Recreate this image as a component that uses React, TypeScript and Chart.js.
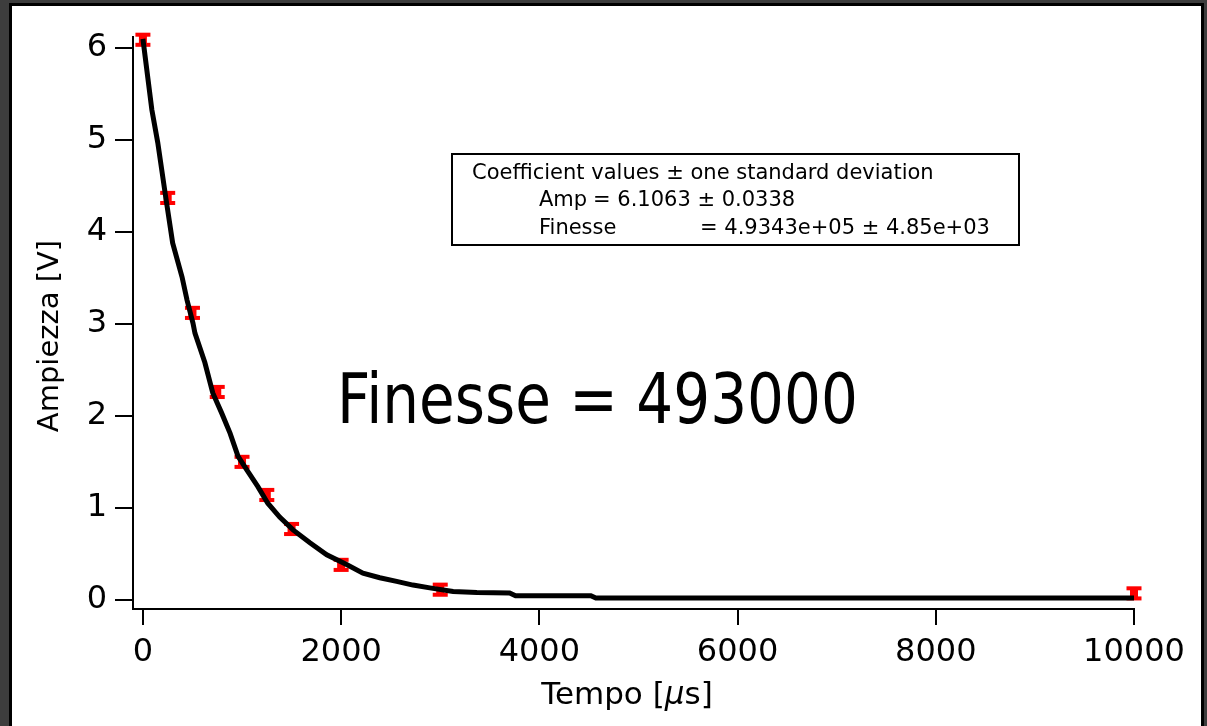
import React, { useEffect, useRef } from 'react';
import { Chart, registerables } from 'chart.js';

Chart.register(...registerables);

// Measured samples (red markers with error bars)
const sampleTime = [0, 250, 500, 750, 1000, 1250, 1500, 2000, 3000, 10000];
const sampleAmp = [6.09, 4.37, 3.12, 2.26, 1.5, 1.14, 0.77, 0.38, 0.11, 0.07];
const sampleErr = [0.055, 0.055, 0.055, 0.055, 0.055, 0.055, 0.055, 0.055, 0.055, 0.055];

// Black decay trace
const traceTime = [
  0, 90, 150, 230, 300, 395, 445, 505, 525, 625, 705, 795, 880, 960, 1050, 1160, 1260, 1380,
  1515, 1685, 1855, 2060, 2220, 2390, 2560, 2725, 2895, 3130, 3370, 3700, 3760, 4520, 4570, 10000,
];
const traceAmp = [
  6.1, 5.33, 4.97, 4.38, 3.88, 3.51, 3.26, 3.01, 2.9, 2.58, 2.25, 2.03, 1.81, 1.56, 1.41, 1.23, 1.05, 0.9,
  0.76, 0.62, 0.49, 0.38, 0.29, 0.24, 0.2, 0.16, 0.13, 0.09, 0.08, 0.075, 0.045, 0.045, 0.02, 0.02,
];

const xTickValues = [0, 2000, 4000, 6000, 8000, 10000];
const yTickValues = [0, 1, 2, 3, 4, 5, 6];

const xTitleParts = ['Tempo [', 'μ', 's]'];
const yTitle = 'Ampiezza [V]';
const fitHeader = 'Coefficient values ± one standard deviation';
const fitNames = ['Amp', 'Finesse'];
const fitValues = ['= 6.1063 ± 0.0338', '= 4.9343e+05 ± 4.85e+03'];
const bigLabel = 'Finesse = 493000';

const FONT = '"DejaVu Sans", sans-serif';

function fitSize(ctx: CanvasRenderingContext2D, text: string, width: number, family: string) {
  ctx.font = `100px ${family}`;
  const w = ctx.measureText(text).width;
  return (100 * width) / w;
}

const decorPlugin = {
  id: 'decor',
  beforeDraw(chart: any) {
    const ctx: CanvasRenderingContext2D = chart.ctx;
    const W = chart.width;
    const H = chart.height;
    ctx.save();
    ctx.fillStyle = '#3d3d3d';
    ctx.fillRect(0, 0, W, H);
    ctx.fillStyle = '#ffffff';
    ctx.fillRect(10, 4, 1193, H);
    ctx.strokeStyle = '#000';
    ctx.lineWidth = 3;
    ctx.strokeRect(10.5, 4.5, 1192, H + 10);
    ctx.restore();
  },
  beforeDatasetsDraw(chart: any) {
    const ctx: CanvasRenderingContext2D = chart.ctx;
    const xs = chart.scales.x;
    const ys = chart.scales.y;
    ctx.save();
    ctx.fillStyle = '#ff0000';
    for (let i = 0; i < sampleTime.length; i++) {
      const px = xs.getPixelForValue(sampleTime[i]);
      const top = ys.getPixelForValue(sampleAmp[i] + sampleErr[i]);
      const bot = ys.getPixelForValue(sampleAmp[i] - sampleErr[i]);
      ctx.fillRect(px - 7.5, top - 2, 15, 4);
      ctx.fillRect(px - 7.5, bot - 2, 15, 4);
      ctx.fillRect(px - 4, top, 8, bot - top);
    }
    ctx.restore();
  },
  afterDraw(chart: any) {
    const ctx: CanvasRenderingContext2D = chart.ctx;
    ctx.save();
    ctx.fillStyle = '#000';
    ctx.textBaseline = 'middle';

    // fit box
    ctx.strokeStyle = '#000';
    ctx.lineWidth = 2;
    ctx.strokeRect(452, 154, 567, 91);
    const hs = fitSize(ctx, fitHeader, 462, FONT);
    ctx.font = `${hs}px ${FONT}`;
    ctx.textAlign = 'left';
    ctx.fillText(fitHeader, 472, 174);
    ctx.fillText(fitNames[0], 539, 201);
    ctx.fillText(fitValues[0], 593, 201);
    ctx.fillText(fitNames[1], 539, 229);
    ctx.fillText(fitValues[1], 700, 229);

    // big label
    const bs = fitSize(ctx, bigLabel, 521, FONT);
    ctx.font = `${bs}px ${FONT}`;
    ctx.textBaseline = 'alphabetic';
    ctx.save();
    ctx.translate(337, 423);
    ctx.scale(1, 1.2);
    ctx.fillText(bigLabel, 0, 0);
    ctx.restore();

    // x title
    const tf = 31;
    ctx.font = `${tf}px ${FONT}`;
    const w0 = ctx.measureText(xTitleParts[0]).width;
    ctx.font = `italic ${tf}px ${FONT}`;
    const w1 = ctx.measureText(xTitleParts[1]).width;
    ctx.font = `${tf}px ${FONT}`;
    const w2 = ctx.measureText(xTitleParts[2]).width;
    let x = 627 - (w0 + w1 + w2) / 2;
    ctx.fillText(xTitleParts[0], x, 704);
    x += w0;
    ctx.font = `italic ${tf}px ${FONT}`;
    ctx.fillText(xTitleParts[1], x, 704);
    x += w1;
    ctx.font = `${tf}px ${FONT}`;
    ctx.fillText(xTitleParts[2], x, 704);

    // y title
    ctx.save();
    ctx.translate(50, 336);
    ctx.rotate(-Math.PI / 2);
    ctx.textAlign = 'center';
    ctx.textBaseline = 'middle';
    ctx.font = `29px ${FONT}`;
    ctx.fillText(yTitle, 0, 0);
    ctx.restore();

    ctx.restore();
  },
};

export default function App() {
  const ref = useRef<HTMLCanvasElement | null>(null);
  useEffect(() => {
    if (!ref.current) return;
    const chart = new Chart(ref.current, {
      type: 'scatter',
      data: {
        datasets: [
          {
            label: 'trace',
            data: traceTime.map((t, i) => ({ x: t, y: traceAmp[i] })),
            showLine: true,
            borderColor: '#000',
            borderWidth: 5,
            pointRadius: 0,
            tension: 0,
            fill: false,
          },
        ],
      },
      options: {
        responsive: false,
        animation: false,
        devicePixelRatio: 1,
        layout: { padding: { left: 0, top: 37, right: 73, bottom: 0 } },
        plugins: { legend: { display: false }, tooltip: { enabled: false } },
        scales: {
          x: {
            type: 'linear',
            min: -100,
            max: 10000,
            afterFit: (s: any) => {
              s.height = 117;
            },
            afterBuildTicks: (s: any) => {
              s.ticks = xTickValues.map((v) => ({ value: v }));
            },
            border: { display: true, color: '#000', width: 2 },
            grid: { drawOnChartArea: false, drawTicks: true, tickLength: 16, color: '#000', lineWidth: 2 },
            ticks: {
              color: '#000',
              font: { family: FONT, size: 32 },
              padding: 8,
              maxRotation: 0,
              autoSkip: false,
              callback: (v: any) => String(v),
            },
          },
          y: {
            type: 'linear',
            min: -0.1,
            max: 6.12,
            afterFit: (s: any) => {
              s.width = 133;
            },
            afterBuildTicks: (s: any) => {
              s.ticks = yTickValues.map((v) => ({ value: v }));
            },
            border: { display: true, color: '#000', width: 2 },
            grid: { drawOnChartArea: false, drawTicks: true, tickLength: 18, color: '#000', lineWidth: 2 },
            ticks: {
              color: '#000',
              font: { family: FONT, size: 32 },
              padding: 8,
              autoSkip: false,
              callback: (v: any) => String(v),
            },
          },
        },
      },
      plugins: [decorPlugin],
    });
    return () => chart.destroy();
  }, []);
  return (
    <div style={{ position: 'absolute', left: 0, top: 0, width: 1207, height: 726, overflow: 'hidden' }}>
      <canvas ref={ref} width={1207} height={726} style={{ display: 'block' }} />
    </div>
  );
}
